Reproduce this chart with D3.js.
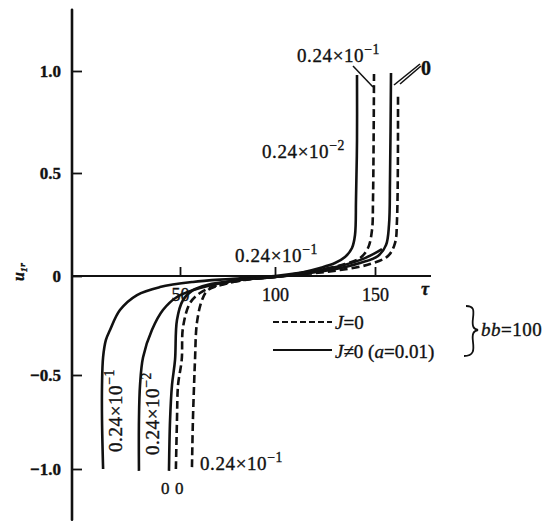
<!DOCTYPE html>
<html>
<head>
<meta charset="utf-8">
<script src="https://cdn.jsdelivr.net/npm/d3@7"></script>
<style>
  html, body { margin: 0; padding: 0; background: #fff; }
  svg { display: block; }
  text { font-family: "Liberation Serif", "DejaVu Serif", serif; fill: #111; stroke: #111; stroke-width: 0.35; }
</style>
</head>
<body>
<svg id="chart" width="552" height="524"></svg>
<script>
// Axis ticks
const xTicks = [50, 100, 150];
const yTicks = [-1, -0.5, 0, 0.5, 1];
const yTickLabels = ["\u22121.0", "\u22120.5", "0", "0.5", "1.0"];
const xExtent = [0, 178];
const yExtent = [-1.27, 1.3];

// Curves: tau values and u_1r values (solid: J≠0, a=0.01; dashed: J=0)
const tauSolidA = [14.4, 13.9, 13.9, 14.4, 15.7, 17.6, 22.2, 30.1, 40.7, 56.8, 76.3, 100, 112.5, 132.5, 145, 153.5];
const uSolidA   = [-1.0, -0.74, -0.553, -0.41, -0.323, -0.273, -0.172, -0.096, -0.056, -0.03, -0.015, 0, 0.015, 0.049, 0.087, 0.131];

const tauSolidB = [31, 31, 31.5, 32.9, 37, 42.1, 48.6, 60.5, 81.6, 100, 112.5, 122.5, 130, 135, 138.5, 140, 140.5, 141, 141];
const uSolidB   = [-1.01, -0.74, -0.553, -0.41, -0.273, -0.172, -0.106, -0.061, -0.02, -0.005, 0.015, 0.039, 0.063, 0.092, 0.136, 0.199, 0.37, 0.66, 0.98];

const tauSolidC = [44.9, 45.4, 46.3, 47.7, 48.6, 51.6, 56.8, 64.2, 81.6, 100, 127.5, 142.5, 151.5, 155.5, 157, 157.5, 158];
const uSolidC   = [-1.01, -0.74, -0.553, -0.424, -0.222, -0.121, -0.071, -0.045, -0.02, -0.005, 0.029, 0.063, 0.097, 0.15, 0.248, 0.466, 0.99];

const tauDashD = [48.1, 48.6, 49.1, 50.9, 51.6, 55.3, 60.5, 68.4, 84.2, 100, 132.5, 147.5, 156.5, 160, 161, 161.5];
const uDashD   = [-1.0, -0.74, -0.553, -0.424, -0.258, -0.136, -0.086, -0.051, -0.02, -0.005, 0.029, 0.058, 0.097, 0.16, 0.272, 0.892];

const tauDashE = [56.3, 56.8, 57.4, 57.9, 58.9, 61.6, 64.7, 73.7, 86.8, 100, 122.5, 135, 142.5, 146.5, 148.5, 149, 149.5];
const uDashE   = [-0.99, -0.74, -0.553, -0.424, -0.237, -0.121, -0.071, -0.04, -0.015, -0.005, 0.029, 0.058, 0.087, 0.136, 0.223, 0.369, 0.985];

const curves = [
  { tau: tauSolidA, u: uSolidA, dashed: false },
  { tau: tauSolidB, u: uSolidB, dashed: false },
  { tau: tauSolidC, u: uSolidC, dashed: false },
  { tau: tauDashD,  u: uDashD,  dashed: true },
  { tau: tauDashE,  u: uDashE,  dashed: true }
];

const svg = d3.select("#chart");

// Slightly uneven spacing of the printed axes
const x = d3.scaleLinear().domain([0, 50, 100, 150]).range([72, 180, 275, 375]);
const y = d3.scaleLinear().domain([-1, -0.5, 0, 0.5, 1]).range([469, 375, 276, 173, 71]);

// Axes lines
svg.append("line")
  .attr("x1", x(0)).attr("x2", x(0))
  .attr("y1", y(yExtent[1])).attr("y2", y(yExtent[0]))
  .attr("stroke", "#111").attr("stroke-width", 2.6).attr("stroke-linecap", "round");

svg.append("line")
  .attr("x1", x(xExtent[0])).attr("x2", x(xExtent[1]))
  .attr("y1", y(0)).attr("y2", y(0))
  .attr("stroke", "#111").attr("stroke-width", 1.8);

// x ticks (pointing up) and labels
const xAxis = d3.axisBottom(x).tickValues(xTicks).tickSizeInner(-9).tickSizeOuter(0).tickPadding(12).tickFormat(d3.format("d"));
const gx = svg.append("g").attr("transform", `translate(0,${y(0)})`).call(xAxis);
gx.select(".domain").remove();
gx.selectAll(".tick line").attr("stroke", "#111").attr("stroke-width", 1.8);
gx.selectAll(".tick text").attr("font-size", 18).attr("font-family", "Liberation Serif").attr("fill", "#111");

// y ticks (pointing right) and labels
const yAxis = d3.axisLeft(y).tickValues(yTicks).tickSizeInner(-10).tickSizeOuter(0).tickPadding(11)
  .tickFormat((d, i) => yTickLabels[i]);
const gy = svg.append("g").attr("transform", `translate(${x(0)},0)`).call(yAxis);
gy.select(".domain").remove();
gy.selectAll(".tick line").attr("stroke", "#111").attr("stroke-width", 1.8);
gy.selectAll(".tick text").attr("font-size", 17).attr("font-weight", "bold").attr("font-family", "Liberation Serif").attr("fill", "#111");

// Axis titles
svg.append("text")
  .attr("transform", `translate(24,${y(0) - 4}) rotate(-90)`)
  .attr("text-anchor", "middle").attr("font-size", 16).attr("font-weight", "bold").attr("font-style", "italic")
  .text("u\u2081\u1d63");
svg.append("text")
  .attr("x", x(173)).attr("y", y(0) + 19)
  .attr("font-size", 18).attr("font-style", "italic").attr("font-weight", "bold")
  .text("\u03c4");

// Curves
const line = d3.line().x(d => x(d[0])).y(d => y(d[1])).curve(d3.curveCatmullRom.alpha(0.5));
svg.append("g").selectAll("path").data(curves).join("path")
  .attr("d", c => line(c.tau.map((t, i) => [t, c.u[i]])))
  .attr("fill", "none")
  .attr("stroke", "#111")
  .attr("stroke-width", 2.6)
  .attr("stroke-dasharray", c => c.dashed ? "8,4" : null);

// Curve labels: "0.24×10⁻ⁿ"
function sciLabel(g, exp, size) {
  const t = g.append("text").attr("font-size", size).attr("letter-spacing", 0.6);
  t.append("tspan").text("0.24\u00d710");
  t.append("tspan").attr("font-size", size * 0.72).attr("dy", -size * 0.4).text("\u2212" + exp);
  return t;
}

sciLabel(svg.append("g").attr("transform", "translate(297,62)"), 1, 19);
sciLabel(svg.append("g").attr("transform", "translate(262,158)"), 2, 19);
sciLabel(svg.append("g").attr("transform", "translate(235,262)"), 1, 19);
sciLabel(svg.append("g").attr("transform", "translate(200,470)"), 1, 19);
sciLabel(svg.append("g").attr("transform", "translate(122,452) rotate(-90)"), 1, 19);
sciLabel(svg.append("g").attr("transform", "translate(159,455) rotate(-90)"), 2, 19);

// Leader line to the dashed 0.24×10⁻¹ curve
svg.append("line").attr("x1", 353).attr("y1", 66).attr("x2", 373).attr("y2", 87)
  .attr("stroke", "#111").attr("stroke-width", 1.5);

// "0" label with wedge leaders
svg.append("text").attr("x", 421).attr("y", 75).attr("font-size", 20).attr("font-weight", "bold").text("0");
svg.append("line").attr("x1", 420).attr("y1", 64).attr("x2", 394).attr("y2", 85)
  .attr("stroke", "#111").attr("stroke-width", 1.6);
svg.append("line").attr("x1", 421).attr("y1", 66).attr("x2", 400).attr("y2", 84)
  .attr("stroke", "#111").attr("stroke-width", 1.6);

// "0 0" under lower curves
svg.append("text").attr("x", 161).attr("y", 494).attr("font-size", 17).text("0");
svg.append("text").attr("x", 175).attr("y", 494).attr("font-size", 17).text("0");

// Legend
const legend = svg.append("g");
legend.append("line").attr("x1", 273).attr("x2", 332).attr("y1", 322).attr("y2", 322)
  .attr("stroke", "#111").attr("stroke-width", 2).attr("stroke-dasharray", "6,3");
legend.append("line").attr("x1", 273).attr("x2", 332).attr("y1", 350).attr("y2", 350)
  .attr("stroke", "#111").attr("stroke-width", 2);
const l1 = legend.append("text").attr("x", 335).attr("y", 329).attr("font-size", 19);
l1.append("tspan").attr("font-style", "italic").text("J");
l1.append("tspan").text("=0");
const l2 = legend.append("text").attr("x", 335).attr("y", 358).attr("font-size", 19);
l2.append("tspan").attr("font-style", "italic").text("J");
l2.append("tspan").text("\u22600 (");
l2.append("tspan").attr("font-style", "italic").text("a");
l2.append("tspan").text("=0.01)");
legend.append("path")
  .attr("d", "M466,306 C474,306 474,310 473,318 C472,326 473,329 478,330 C473,331 472,334 473,342 C474,350 474,356 464,356")
  .attr("fill", "none").attr("stroke", "#111").attr("stroke-width", 1.8);
const l3 = legend.append("text").attr("x", 481).attr("y", 336).attr("font-size", 19).attr("letter-spacing", 0.5);
l3.append("tspan").attr("font-style", "italic").text("bb");
l3.append("tspan").text("=100");
</script>
</body>
</html>
